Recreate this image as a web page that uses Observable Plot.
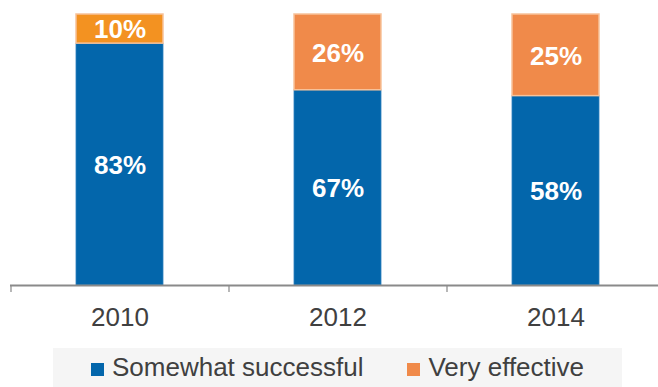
<!DOCTYPE html>
<html>
<head>
<meta charset="utf-8">
<script src="https://cdn.jsdelivr.net/npm/d3@7"></script>
<script src="https://cdn.jsdelivr.net/npm/@observablehq/plot@0.6"></script>
<style>
  html, body { margin: 0; padding: 0; background: #fff; }
  #chart svg { display: block; overflow: visible; }
  #legend {
    position: absolute; left: 53px; top: 348px; width: 569px; height: 39px;
    background: #f5f5f5; display: flex; align-items: center; justify-content: center;
    font-family: "Liberation Sans", Arial, sans-serif; font-size: 26px; color: #404040;
  }
  #legend .item { display: flex; align-items: center; margin: 0 22px; }
  #legend .sw { width: 13px; height: 13px; margin-right: 8px; margin-top: 4px; }
</style>
</head>
<body>
<div id="chart"></div>
<div id="legend"></div>
<script>
const years = ["2010", "2012", "2014"];
const seriesNames = ["Somewhat successful", "Very effective"];
const somewhatSuccessful = [83, 67, 58];
const veryEffective = [10, 26, 25];

const blue = "#0366ab";
const orangeSolid = "#f39221";
const orangeTextured = "#f08a4a";

const data = [];
years.forEach((y, i) => {
  data.push({year: y, series: seriesNames[0], value: somewhatSuccessful[i]});
  data.push({year: y, series: seriesNames[1], value: veryEffective[i]});
});

const fillOf = d => d.series === seriesNames[0] ? blue : (d.year === "2010" ? orangeSolid : orangeTextured);

const plot = Plot.plot({
  width: 658,
  height: 340,
  marginTop: 14,
  marginBottom: 55,
  marginLeft: 10,
  marginRight: 0,
  style: {fontFamily: "Liberation Sans, Arial, sans-serif", background: "transparent"},
  x: {domain: years, range: [11, 665], paddingInner: 0.6, paddingOuter: 0.3, label: null},
  y: {domain: [0, 1], axis: null},
  color: {type: "identity"},
  marks: [
    Plot.barY(data, Plot.stackY({offset: "normalize"}, {
      x: "year", y: "value", fill: fillOf,
      stroke: d => d.series === seriesNames[0] ? "#2f7fbf" : "#f7c29a",
      strokeWidth: d => d.series === seriesNames[0] ? 0.8 : 1.5
    })),
    Plot.text(data, Plot.stackY({offset: "normalize"}, {
      x: "year", y: "value", text: d => d.value + "%",
      fill: "white", fontWeight: "bold", fontSize: 26, dy: 1
    })),
    Plot.ruleX(years, {x: d => d, dx: -109, y1: 0, y2: -0.026, stroke: "#888", strokeWidth: 1.2}),
    Plot.ruleY([0], {stroke: "#8a8a8a", strokeWidth: 2}),
    Plot.axisX({tickSize: 0, tickPadding: 22, fontSize: 26, color: "#404040", label: null})
  ]
});
document.getElementById("chart").appendChild(plot);

const legend = document.getElementById("legend");
const swatchColors = [blue, orangeTextured];
seriesNames.forEach((name, i) => {
  const item = document.createElement("div");
  item.className = "item";
  const sw = document.createElement("span");
  sw.className = "sw";
  sw.style.background = swatchColors[i];
  const label = document.createElement("span");
  label.textContent = name;
  item.appendChild(sw);
  item.appendChild(label);
  legend.appendChild(item);
});
</script>
</body>
</html>
